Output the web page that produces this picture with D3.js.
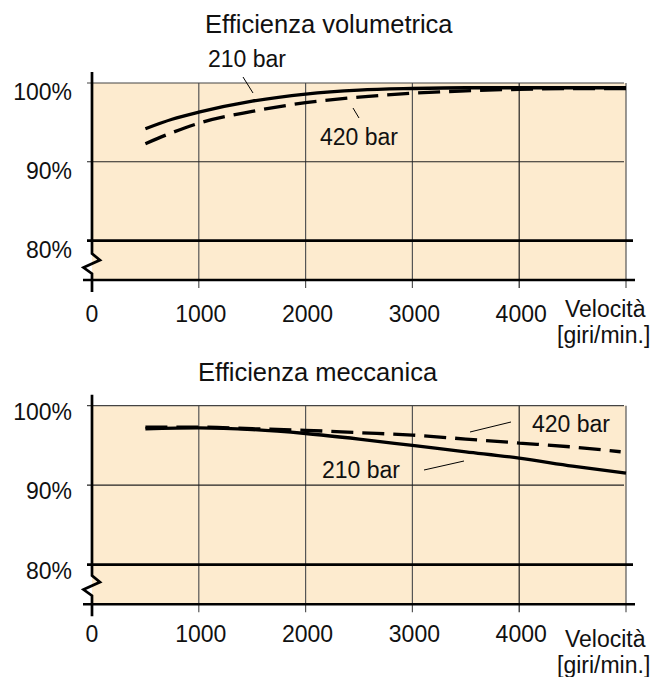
<!DOCTYPE html>
<html>
<head>
<meta charset="utf-8">
<script src="https://cdn.jsdelivr.net/npm/d3@7"></script>
<style>
  html, body { margin: 0; padding: 0; background: #fff; }
  svg text { font-family: "Liberation Sans", Arial, Helvetica, sans-serif; fill: #111; }
</style>
</head>
<body>
<svg id="chart" width="665" height="677"></svg>
<script>
// ---------- data ----------
const xTicks = [0, 1000, 2000, 3000, 4000];
const xTickLabels = ["0", "1000", "2000", "3000", "4000"];
const yTicks = [100, 90, 80];
const yTickLabels = ["100%", "90%", "80%"];
const xAxisLabel = ["Velocità", "[giri/min.]"];

const volTitle = "Efficienza volumetrica";
const volSpeed = [500, 750, 1000, 1500, 2000, 2500, 3000, 3500, 4000, 4500, 5000];
const vol210 = [94.2, 95.4, 96.3, 97.7, 98.6, 99.1, 99.3, 99.4, 99.4, 99.4, 99.4];
const vol420 = [92.3, 93.7, 94.9, 96.4, 97.5, 98.2, 98.7, 99.0, 99.2, 99.3, 99.3];

const mecTitle = "Efficienza meccanica";
const mecSpeed = [500, 1000, 1500, 2000, 2500, 3000, 3500, 4000, 4500, 5000];
const mec210 = [97.1, 97.2, 97.0, 96.5, 95.8, 95.0, 94.2, 93.4, 92.4, 91.5];
const mecSpeed420 = [500, 1000, 1500, 2000, 2500, 3000, 3500, 4000, 4500, 4950];
const mec420 = [97.3, 97.3, 97.1, 96.9, 96.6, 96.3, 95.8, 95.3, 94.8, 94.2];

const seriesNames = ["210 bar", "420 bar"];

// ---------- drawing ----------
const svg = d3.select("#chart");
const x = d3.scaleLinear().domain([0, 5000]).range([92, 626]);

function panel(cfg) {
  const y = d3.scaleLinear().domain([75, 100]).range([cfg.bottom, cfg.top]);
  const g = svg.append("g");
  const xL = x(0), xR = x(5000);

  // background
  g.append("rect").attr("x", xL).attr("y", y(100))
    .attr("width", xR - xL).attr("height", y(75) - y(100))
    .attr("fill", "#fdebcf");

  // vertical gridlines
  g.selectAll(".vg").data([1000, 2000, 3000, 4000, 5000]).enter().append("line")
    .attr("x1", d => x(d)).attr("x2", d => x(d))
    .attr("y1", y(100)).attr("y2", y(75) + 8)
    .attr("stroke", d => d === 4000 ? "#222" : "#555").attr("stroke-width", 1.2);

  // 100% and 90% thin lines
  g.append("line").attr("x1", xL - 5).attr("x2", xR - 2)
    .attr("y1", y(100)).attr("y2", y(100)).attr("stroke", "#444").attr("stroke-width", 1.2);
  g.append("line").attr("x1", xL - 5).attr("x2", xR - 2)
    .attr("y1", y(90)).attr("y2", y(90)).attr("stroke", "#222").attr("stroke-width", 1.1);
  // 80% thick line and bottom thick line
  g.append("line").attr("x1", xL - 5).attr("x2", xR + 7)
    .attr("y1", y(80)).attr("y2", y(80)).attr("stroke", "#000").attr("stroke-width", 2.6);
  g.append("line").attr("x1", xL - 9).attr("x2", xR + 9)
    .attr("y1", y(75)).attr("y2", y(75)).attr("stroke", "#000").attr("stroke-width", 2.6);

  // left axis with zigzag break
  const zb = y(80) + cfg.zz[0];
  const axisPath = d3.path();
  axisPath.moveTo(xL, y(100) - 11);
  axisPath.lineTo(xL, zb);
  axisPath.lineTo(xL + 8, zb + 6.5);
  axisPath.lineTo(xL - 8.5, zb + 14);
  axisPath.lineTo(xL, zb + 20);
  axisPath.lineTo(xL, y(75) + 12);
  g.append("path").attr("d", axisPath.toString())
    .attr("fill", "none").attr("stroke", "#000").attr("stroke-width", 2.7)
    .attr("stroke-linejoin", "miter");

  // y tick labels
  g.selectAll(".yl").data(yTicks).enter().append("text")
    .attr("x", 72).attr("y", d => y(d) + cfg.ylOff)
    .attr("text-anchor", "end").attr("font-size", 23)
    .text((d, i) => yTickLabels[i]);

  // x tick labels
  g.selectAll(".xl").data(xTicks).enter().append("text")
    .attr("x", d => x(d) + (d === 0 ? 0 : 2)).attr("y", y(75) + cfg.xlOff)
    .attr("text-anchor", "middle").attr("font-size", 23)
    .text((d, i) => xTickLabels[i]);

  // axis title
  g.append("text").attr("x", 565).attr("y", y(75) + cfg.velOff)
    .attr("font-size", 23).text(xAxisLabel[0]);
  g.append("text").attr("x", 557).attr("y", y(75) + cfg.velOff + 26)
    .attr("font-size", 23).text(xAxisLabel[1]);

  // title
  g.append("text").attr("x", cfg.titleX).attr("y", cfg.titleY)
    .attr("font-size", 25.5).text(cfg.title);

  // curves
  const line = d3.line().x(d => x(d[0])).y(d => y(d[1])).curve(d3.curveMonotoneX);
  g.append("path").datum(d3.zip(cfg.s210x, cfg.s210))
    .attr("d", line).attr("fill", "none").attr("stroke", "#000")
    .attr("stroke-width", 3.3);
  g.append("path").datum(d3.zip(cfg.s420x, cfg.s420))
    .attr("d", line).attr("fill", "none").attr("stroke", "#000")
    .attr("stroke-width", 3.3).attr("stroke-dasharray", "22 9");

  // series labels with leader lines
  cfg.labels.forEach(l => {
    g.append("text").attr("x", l.tx).attr("y", l.ty)
      .attr("font-size", 23).text(seriesNames[l.s]);
    g.append("line").attr("x1", l.l[0]).attr("y1", l.l[1])
      .attr("x2", l.l[2]).attr("y2", l.l[3])
      .attr("stroke", "#000").attr("stroke-width", 1);
  });
}

panel({
  top: 83, bottom: 280, title: volTitle, titleX: 205, titleY: 33,
  ylOff: 17, xlOff: 42, velOff: 37, zz: [13],
  s210x: volSpeed, s210: vol210, s420x: volSpeed, s420: vol420,
  labels: [
    { s: 0, tx: 208, ty: 67, l: [243, 77, 253, 93] },
    { s: 1, tx: 320, ty: 145, l: [353, 108, 359, 118] }
  ]
});

panel({
  top: 405.7, bottom: 604.3, title: mecTitle, titleX: 198, titleY: 381,
  ylOff: 14, xlOff: 38, velOff: 43, zz: [11],
  s210x: mecSpeed, s210: mec210, s420x: mecSpeed420, s420: mec420,
  labels: [
    { s: 1, tx: 532, ty: 432, l: [470, 432, 511, 422] },
    { s: 0, tx: 322, ty: 478, l: [424, 470, 464, 461] }
  ]
});
</script>
</body>
</html>
